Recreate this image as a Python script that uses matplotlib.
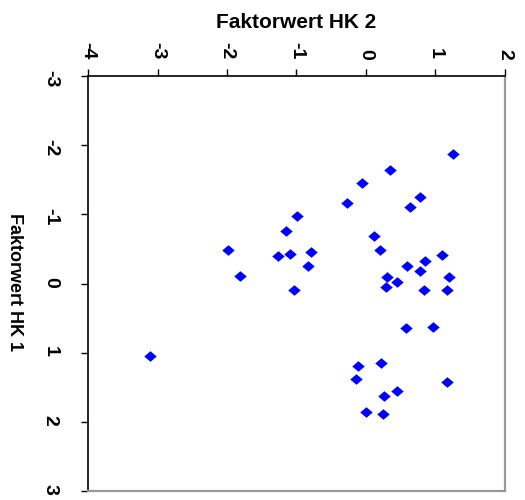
import matplotlib
matplotlib.use("Agg")
import matplotlib.pyplot as plt
from matplotlib.ticker import MultipleLocator

plt.rcParams["font.family"] = ["Liberation Sans", "DejaVu Sans"]
plt.rcParams["axes.unicode_minus"] = False

# factor scores per case: HK 1 (vertical, top = -3) and HK 2 (horizontal)
hk1 = [-1.87, -1.64, -1.46, -1.17, -1.25, -1.10, -0.69, -0.48, -0.41, -0.33,
       -0.97, -0.76, -0.48, -0.40, -0.42, -0.46, -0.26, -0.11, 0.10, -0.26,
       -0.18, -0.10, -0.09, -0.02, 0.05, 0.10, 0.10, 0.64, 0.63, 1.05,
       1.19, 1.15, 1.38, 1.43, 1.55, 1.62, 1.86, 1.88]
hk2 = [1.25, 0.35, -0.06, -0.28, 0.77, 0.63, 0.11, 0.20, 1.09, 0.85,
       -0.99, -1.15, -1.99, -1.27, -1.09, -0.79, -0.83, -1.82, -1.04, 0.59,
       0.77, 0.30, 1.19, 0.45, 0.29, 0.83, 1.17, 0.57, 0.97, -3.11,
       -0.12, 0.21, -0.14, 1.17, 0.45, 0.26, 0.00, 0.24]

hk2_range = (-4, 2)
hk1_range = (3, -3)

diamond = [(0, 0.85), (1, 0), (0, -0.85), (-1, 0), (0, 0.85)]

fig = plt.figure(figsize=(5.25, 5.0), dpi=100)
ax = fig.add_axes([88 / 525, 9 / 500, 417 / 525, 415 / 500])

ax.plot(hk2, hk1, linestyle="none", marker=diamond, markersize=9,
        color="#0000ff", markeredgewidth=0)

ax.set_xlim(*hk2_range)
ax.set_ylim(*hk1_range)
ax.xaxis.set_major_locator(MultipleLocator(1))
ax.yaxis.set_major_locator(MultipleLocator(1))

ax.xaxis.tick_top()
ax.tick_params(axis="both", direction="out", length=5, width=1, color="black",
               labelsize=14)
ax.tick_params(axis="x", pad=7)
ax.tick_params(axis="y", pad=16)
for lab in ax.get_xticklabels() + ax.get_yticklabels():
    lab.set_rotation(-90)
    lab.set_fontweight("bold")

ax.spines["top"].set_color("black")
ax.spines["left"].set_color("black")
ax.spines["top"].set_linewidth(1.2)
ax.spines["left"].set_linewidth(1.2)
ax.spines["right"].set_color("#999999")
ax.spines["bottom"].set_color("#999999")
ax.spines["right"].set_linewidth(1.6)
ax.spines["bottom"].set_linewidth(1.6)

fig.text(296 / 525, 1 - 28.3 / 500, "Faktorwert HK 2", ha="center",
         va="baseline", fontsize=15, fontweight="bold")
fig.text(14 / 525, 1 - 281.7 / 500, "Faktorwert HK 1", ha="center",
         va="center", rotation=-90, fontsize=13, fontweight="bold")

fig.savefig("out.png", dpi=100)
